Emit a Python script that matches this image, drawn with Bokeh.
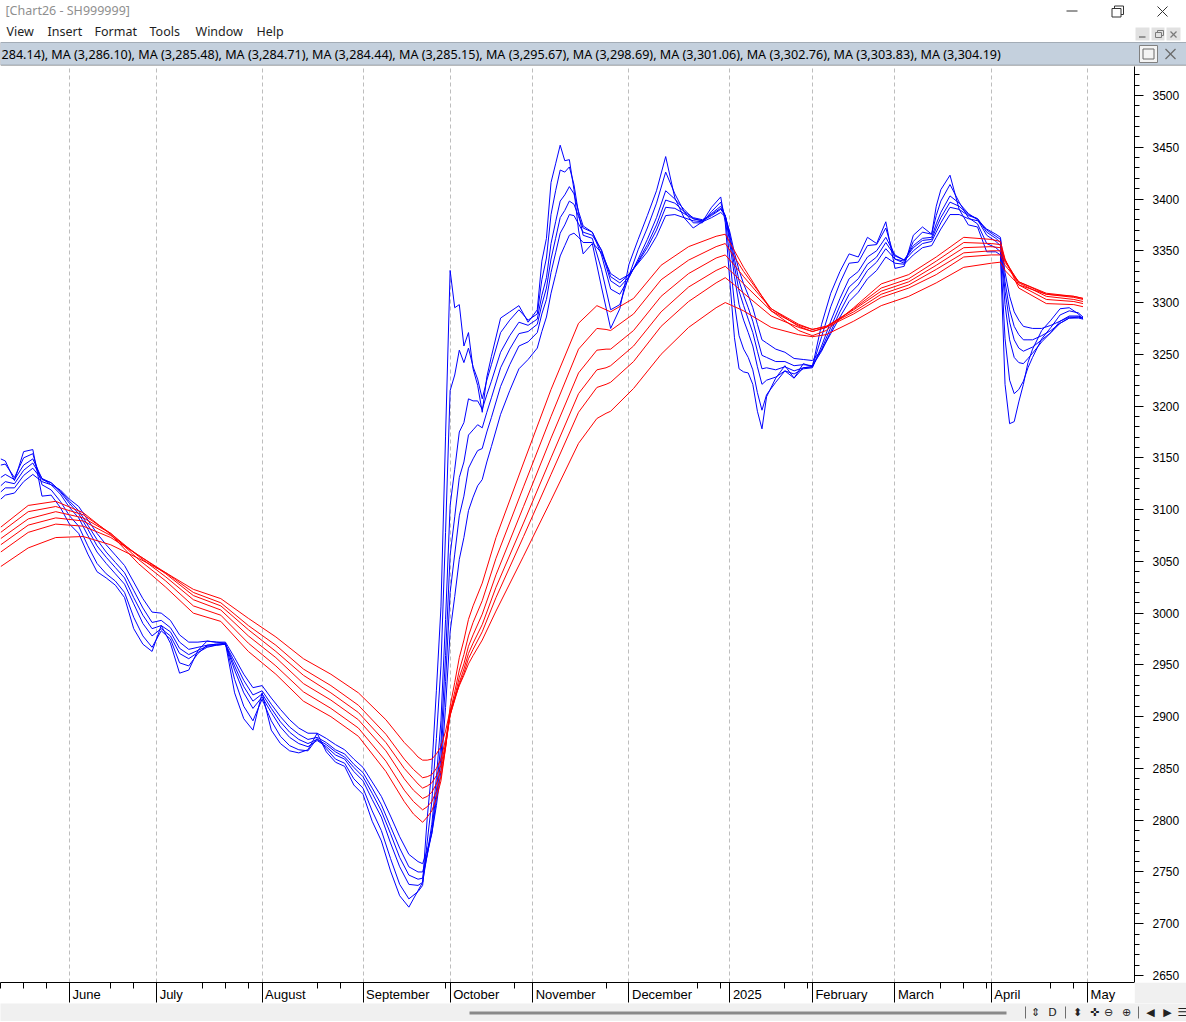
import pandas as pd
from bokeh.plotting import figure
from bokeh.layouts import column
from bokeh.models import Range1d, FixedTicker, SingleIntervalTicker
from bokeh.embed import file_html
from bokeh.resources import INLINE
from bokeh.core.properties import value

# ---------------- data ----------------
HOLIDAYS = ["2024-06-10", "2024-09-16", "2024-09-17", "2024-10-01", "2024-10-02", "2024-10-03",
            "2024-10-04", "2024-10-07", "2025-01-01", "2025-01-28", "2025-01-29", "2025-01-30",
            "2025-01-31", "2025-02-03", "2025-02-04", "2025-04-04", "2025-05-01", "2025-05-02", "2025-05-05"]
MONTH_LABELS = ["June", "July", "August", "September", "October", "November", "December",
                "2025", "February", "March", "April", "May"]
HEADER_VALUES = [3284.14, 3286.10, 3285.48, 3284.71, 3284.44, 3285.15,
                 3295.67, 3298.69, 3301.06, 3302.76, 3303.83, 3304.19]

BLUE_DATES = [
    "2024-05-13", "2024-05-14", "2024-05-16", "2024-05-20", "2024-05-22", "2024-05-24", "2024-05-28", "2024-05-30", "2024-06-03", "2024-06-05",
    "2024-06-07", "2024-06-12", "2024-06-14", "2024-06-18", "2024-06-20", "2024-06-24", "2024-06-26", "2024-06-28", "2024-07-02", "2024-07-04",
    "2024-07-08", "2024-07-10", "2024-07-12", "2024-07-16", "2024-07-18", "2024-07-22", "2024-07-24", "2024-07-26", "2024-07-30", "2024-08-01",
    "2024-08-05", "2024-08-07", "2024-08-09", "2024-08-13", "2024-08-15", "2024-08-19", "2024-08-21", "2024-08-23", "2024-08-27", "2024-08-29",
    "2024-09-02", "2024-09-04", "2024-09-06", "2024-09-10", "2024-09-12", "2024-09-18", "2024-09-20", "2024-09-23", "2024-09-24", "2024-09-25",
    "2024-09-26", "2024-09-27", "2024-09-30", "2024-10-08", "2024-10-09", "2024-10-10", "2024-10-11", "2024-10-14", "2024-10-15", "2024-10-16",
    "2024-10-17", "2024-10-18", "2024-10-21", "2024-10-23", "2024-10-25", "2024-10-29", "2024-10-31", "2024-11-04", "2024-11-05", "2024-11-06",
    "2024-11-07", "2024-11-08", "2024-11-11", "2024-11-12", "2024-11-13", "2024-11-14", "2024-11-15", "2024-11-18", "2024-11-20", "2024-11-22",
    "2024-11-26", "2024-11-28", "2024-12-02", "2024-12-04", "2024-12-06", "2024-12-10", "2024-12-12", "2024-12-16", "2024-12-18", "2024-12-20",
    "2024-12-24", "2024-12-26", "2024-12-30", "2024-12-31", "2025-01-02", "2025-01-03", "2025-01-06", "2025-01-07", "2025-01-08", "2025-01-09",
    "2025-01-10", "2025-01-13", "2025-01-14", "2025-01-16", "2025-01-20", "2025-01-22", "2025-01-24", "2025-02-05", "2025-02-07", "2025-02-11",
    "2025-02-13", "2025-02-17", "2025-02-19", "2025-02-21", "2025-02-25", "2025-02-27", "2025-03-03", "2025-03-05", "2025-03-07", "2025-03-11",
    "2025-03-13", "2025-03-14", "2025-03-17", "2025-03-19", "2025-03-21", "2025-03-25", "2025-03-27", "2025-03-31", "2025-04-02", "2025-04-03",
    "2025-04-07", "2025-04-08", "2025-04-09", "2025-04-10", "2025-04-11", "2025-04-14", "2025-04-15", "2025-04-17", "2025-04-21", "2025-04-23",
    "2025-04-25", "2025-04-29", "2025-04-30"]

MA3 = [3149, 3147, 3128, 3156, 3158, 3113, 3114, 3102, 3086, 3077,
       3057, 3040, 3034, 3027, 3015, 2985, 2970, 2963, 2988, 2971,
       2942, 2945, 2964, 2973, 2972, 2971, 2923, 2898, 2887, 2923,
       2887, 2874, 2867, 2865, 2868, 2884, 2866, 2856, 2852, 2834,
       2825, 2799, 2780, 2751, 2727, 2716, 2732, 2740, 2802, 2849,
       2925, 3006, 3171, 3331, 3295, 3298, 3258, 3271, 3236, 3220,
       3194, 3228, 3248, 3285, 3291, 3297, 3281, 3293, 3340, 3362,
       3416, 3434, 3452, 3437, 3438, 3409, 3370, 3347, 3357, 3315,
       3275, 3294, 3337, 3361, 3384, 3408, 3441, 3401, 3382, 3372,
       3378, 3392, 3402, 3377, 3320, 3266, 3236, 3233, 3232, 3221,
       3195, 3178, 3209, 3227, 3239, 3227, 3241, 3238, 3279, 3309,
       3330, 3347, 3344, 3363, 3357, 3378, 3333, 3335, 3365, 3373,
       3366, 3393, 3409, 3423, 3390, 3375, 3373, 3349, 3349, 3346,
       3221, 3183, 3185, 3204, 3221, 3242, 3255, 3273, 3283, 3294,
       3295, 3289, 3284]
MA5 = [3143, 3144, 3131, 3150, 3154, 3124, 3119, 3108, 3094, 3084,
       3065, 3048, 3038, 3031, 3020, 2996, 2978, 2967, 2983, 2975,
       2952, 2949, 2961, 2969, 2970, 2971, 2936, 2910, 2896, 2917,
       2896, 2881, 2872, 2868, 2867, 2879, 2869, 2859, 2855, 2840,
       2831, 2809, 2790, 2763, 2738, 2724, 2731, 2737, 2779, 2818,
       2879, 2949, 3078, 3215, 3230, 3254, 3242, 3256, 3238, 3226,
       3207, 3225, 3240, 3271, 3283, 3293, 3283, 3289, 3322, 3343,
       3385, 3408, 3428, 3426, 3431, 3414, 3386, 3365, 3362, 3332,
       3293, 3298, 3326, 3351, 3372, 3396, 3426, 3405, 3388, 3377,
       3377, 3388, 3397, 3382, 3342, 3299, 3268, 3255, 3247, 3235,
       3213, 3196, 3211, 3223, 3234, 3227, 3237, 3238, 3267, 3296,
       3319, 3338, 3339, 3355, 3356, 3372, 3342, 3338, 3359, 3368,
       3366, 3384, 3398, 3414, 3397, 3382, 3376, 3357, 3353, 3349,
       3265, 3225, 3212, 3216, 3224, 3237, 3247, 3265, 3276, 3288,
       3292, 3290, 3286]
MA8 = [3131, 3134, 3129, 3143, 3149, 3130, 3124, 3115, 3102, 3092,
       3075, 3059, 3048, 3038, 3028, 3009, 2990, 2978, 2985, 2978,
       2961, 2956, 2962, 2967, 2969, 2970, 2945, 2923, 2908, 2919,
       2904, 2890, 2880, 2874, 2871, 2877, 2871, 2863, 2859, 2847,
       2838, 2820, 2803, 2778, 2755, 2738, 2737, 2740, 2767, 2796,
       2841, 2896, 2994, 3104, 3139, 3175, 3184, 3207, 3205, 3205,
       3197, 3211, 3224, 3252, 3268, 3281, 3278, 3284, 3307, 3324,
       3357, 3378, 3398, 3404, 3412, 3405, 3388, 3374, 3368, 3346,
       3313, 3308, 3324, 3342, 3361, 3382, 3408, 3400, 3390, 3381,
       3379, 3386, 3393, 3384, 3357, 3325, 3298, 3283, 3271, 3258,
       3238, 3221, 3225, 3228, 3234, 3231, 3236, 3237, 3258, 3282,
       3304, 3323, 3330, 3344, 3350, 3363, 3346, 3341, 3355, 3362,
       3363, 3376, 3387, 3403, 3396, 3386, 3380, 3365, 3359, 3355,
       3298, 3264, 3247, 3242, 3241, 3246, 3251, 3262, 3271, 3282,
       3287, 3287, 3285]
MA10 = [3123, 3127, 3125, 3138, 3145, 3130, 3126, 3117, 3106, 3096,
        3081, 3065, 3054, 3044, 3034, 3015, 2998, 2985, 2988, 2982,
        2966, 2960, 2964, 2968, 2969, 2970, 2949, 2929, 2915, 2922,
        2908, 2895, 2885, 2878, 2874, 2878, 2873, 2866, 2861, 2851,
        2842, 2826, 2809, 2787, 2764, 2747, 2743, 2744, 2766, 2790,
        2828, 2875, 2959, 3056, 3093, 3131, 3146, 3172, 3177, 3182,
        3179, 3194, 3208, 3237, 3255, 3270, 3272, 3279, 3298, 3314,
        3342, 3362, 3382, 3389, 3398, 3395, 3383, 3372, 3368, 3350,
        3321, 3315, 3325, 3340, 3356, 3375, 3399, 3396, 3388, 3382,
        3380, 3385, 3391, 3384, 3362, 3335, 3311, 3297, 3284, 3271,
        3253, 3236, 3237, 3235, 3238, 3234, 3237, 3238, 3255, 3276,
        3297, 3315, 3323, 3337, 3344, 3358, 3345, 3341, 3353, 3360,
        3361, 3372, 3382, 3397, 3393, 3385, 3381, 3368, 3362, 3358,
        3311, 3281, 3264, 3256, 3253, 3255, 3257, 3264, 3271, 3280,
        3285, 3286, 3285]
MA12 = [3117, 3121, 3121, 3133, 3140, 3129, 3126, 3118, 3108, 3099,
        3085, 3071, 3059, 3049, 3039, 3022, 3005, 2991, 2993, 2986,
        2972, 2965, 2967, 2969, 2970, 2970, 2953, 2935, 2921, 2925,
        2912, 2900, 2890, 2883, 2878, 2880, 2875, 2868, 2864, 2854,
        2846, 2831, 2815, 2794, 2773, 2755, 2750, 2750, 2767, 2787,
        2820, 2861, 2934, 3020, 3057, 3094, 3113, 3140, 3149, 3157,
        3159, 3175, 3189, 3219, 3240, 3258, 3262, 3271, 3289, 3303,
        3329, 3348, 3367, 3375, 3385, 3384, 3376, 3368, 3365, 3351,
        3325, 3319, 3327, 3339, 3353, 3370, 3392, 3391, 3386, 3381,
        3379, 3384, 3390, 3384, 3365, 3342, 3321, 3307, 3295, 3282,
        3265, 3249, 3247, 3243, 3243, 3239, 3240, 3239, 3253, 3272,
        3291, 3308, 3317, 3331, 3339, 3352, 3342, 3340, 3350, 3357,
        3359, 3368, 3377, 3392, 3390, 3384, 3381, 3370, 3364, 3361,
        3320, 3293, 3277, 3269, 3264, 3264, 3264, 3268, 3273, 3280,
        3285, 3285, 3284]
MA15 = [3110, 3114, 3116, 3127, 3134, 3127, 3124, 3119, 3110, 3103,
        3090, 3077, 3066, 3056, 3046, 3030, 3014, 3001, 3000, 2993,
        2979, 2972, 2972, 2973, 2972, 2972, 2957, 2941, 2928, 2930,
        2918, 2907, 2897, 2889, 2884, 2884, 2879, 2873, 2868, 2859,
        2851, 2837, 2823, 2804, 2784, 2767, 2760, 2758, 2771, 2787,
        2814, 2848, 2909, 2982, 3016, 3052, 3073, 3099, 3112, 3123,
        3129, 3146, 3161, 3192, 3215, 3236, 3245, 3256, 3272, 3286,
        3309, 3327, 3345, 3355, 3365, 3367, 3363, 3358, 3358, 3348,
        3328, 3322, 3327, 3338, 3349, 3364, 3384, 3385, 3382, 3379,
        3378, 3382, 3387, 3383, 3368, 3348, 3331, 3318, 3307, 3295,
        3279, 3264, 3261, 3255, 3252, 3246, 3245, 3244, 3254, 3270,
        3286, 3301, 3310, 3323, 3331, 3344, 3338, 3337, 3346, 3353,
        3355, 3363, 3371, 3385, 3385, 3381, 3379, 3371, 3366, 3363,
        3329, 3306, 3291, 3283, 3277, 3276, 3275, 3275, 3278, 3282,
        3286, 3286, 3285]

RED_DATES = [
    "2024-05-13", "2024-05-21", "2024-05-29", "2024-06-06", "2024-06-17", "2024-06-25", "2024-07-03", "2024-07-11", "2024-07-19", "2024-07-29",
    "2024-08-06", "2024-08-14", "2024-08-22", "2024-08-30", "2024-09-09", "2024-09-13", "2024-09-19", "2024-09-20", "2024-09-23", "2024-09-24",
    "2024-09-25", "2024-09-26", "2024-09-27", "2024-09-30", "2024-10-08", "2024-10-09", "2024-10-10", "2024-10-11", "2024-10-14", "2024-10-15",
    "2024-10-17", "2024-10-22", "2024-10-30", "2024-11-07", "2024-11-15", "2024-11-21", "2024-11-25", "2024-11-26", "2024-12-03", "2024-12-11",
    "2024-12-19", "2024-12-27", "2024-12-31", "2025-01-03", "2025-01-07", "2025-01-15", "2025-01-23", "2025-02-05", "2025-02-10", "2025-02-18",
    "2025-02-26", "2025-03-06", "2025-03-14", "2025-03-24", "2025-04-01", "2025-04-03", "2025-04-07", "2025-04-10", "2025-04-18", "2025-04-28",
    "2025-04-30"]
MA30 = [3083, 3104, 3108, 3097, 3076, 3048, 3025, 3000, 2992, 2963,
        2941, 2915, 2900, 2881, 2847, 2818, 2806, 2802, 2798, 2803,
        2809, 2821, 2838, 2870, 2910, 2933, 2957, 2974, 2994, 3007,
        3029, 3073, 3145, 3216, 3280, 3297, 3293, 3291, 3304, 3336,
        3354, 3364, 3366, 3350, 3334, 3292, 3273, 3268, 3273, 3295,
        3318, 3327, 3344, 3363, 3361, 3359, 3342, 3314, 3299, 3298,
        3296]
MA35 = [3078, 3098, 3103, 3095, 3077, 3052, 3031, 3007, 2998, 2971,
        2949, 2924, 2908, 2889, 2857, 2829, 2818, 2814, 2810, 2813,
        2818, 2828, 2842, 2870, 2904, 2924, 2945, 2960, 2978, 2991,
        3012, 3053, 3122, 3190, 3255, 3275, 3274, 3273, 3289, 3322,
        3341, 3354, 3357, 3344, 3330, 3294, 3277, 3272, 3276, 3294,
        3314, 3323, 3340, 3358, 3357, 3356, 3341, 3317, 3303, 3301,
        3299]
MA40 = [3072, 3091, 3098, 3092, 3077, 3055, 3035, 3013, 3003, 2978,
        2957, 2932, 2916, 2897, 2867, 2840, 2829, 2825, 2821, 2823,
        2827, 2835, 2848, 2871, 2902, 2919, 2938, 2951, 2968, 2979,
        2999, 3037, 3103, 3169, 3232, 3254, 3255, 3255, 3273, 3306,
        3328, 3343, 3346, 3336, 3325, 3294, 3279, 3274, 3277, 3293,
        3311, 3320, 3336, 3353, 3354, 3353, 3341, 3319, 3306, 3303,
        3301]
MA45 = [3066, 3085, 3092, 3089, 3075, 3056, 3038, 3017, 3007, 2984,
        2963, 2940, 2923, 2904, 2875, 2850, 2840, 2835, 2831, 2833,
        2836, 2843, 2853, 2874, 2901, 2917, 2933, 2946, 2961, 2971,
        2989, 3025, 3087, 3150, 3212, 3235, 3237, 3239, 3258, 3291,
        3315, 3331, 3335, 3327, 3318, 3292, 3278, 3274, 3277, 3291,
        3308, 3317, 3332, 3348, 3350, 3350, 3339, 3320, 3308, 3305,
        3303]
MA50 = [3059, 3078, 3086, 3084, 3073, 3056, 3039, 3020, 3010, 2988,
        2969, 2946, 2930, 2911, 2883, 2859, 2849, 2845, 2841, 2842,
        2844, 2850, 2859, 2878, 2902, 2916, 2931, 2942, 2956, 2965,
        2982, 3015, 3074, 3134, 3194, 3218, 3221, 3223, 3243, 3277,
        3301, 3319, 3324, 3317, 3309, 3287, 3276, 3272, 3276, 3289,
        3305, 3314, 3327, 3344, 3346, 3346, 3336, 3320, 3309, 3306,
        3304]
MA60 = [3045, 3063, 3073, 3074, 3066, 3053, 3039, 3023, 3014, 2995,
        2977, 2956, 2941, 2923, 2897, 2875, 2866, 2861, 2858, 2858,
        2859, 2864, 2871, 2886, 2906, 2918, 2930, 2940, 2951, 2959,
        2974, 3002, 3055, 3109, 3164, 3188, 3193, 3195, 3217, 3250,
        3276, 3295, 3300, 3296, 3292, 3276, 3269, 3267, 3269, 3282,
        3297, 3306, 3319, 3334, 3338, 3339, 3331, 3317, 3308, 3306,
        3304]

# ---------------- trading-day calendar (x axis = trading days) ----------------
cal = pd.bdate_range("2024-05-13", "2025-05-06")
cal = cal[~cal.isin(pd.to_datetime(HOLIDAYS))]
pos = {d.strftime("%Y-%m-%d"): i for i, d in enumerate(cal)}
ORIGIN = pos["2024-06-03"]


def tday(dates):
    return [pos[d] - ORIGIN for d in dates]


bx = tday(BLUE_DATES)
rx = tday(RED_DATES)
month_idx = [i - ORIGIN for i in range(1, len(cal)) if cal[i].month != cal[i - 1].month]
X0, X1 = -15.046, 232.23
PX = 1134.0 / (X1 - X0)
week_idx = []
for i in range(0, len(cal)):
    if i == 0 or cal[i].isocalendar()[1] != cal[i - 1].isocalendar()[1]:
        t = i - ORIGIN
        hidden = False
        for m, lab in zip(month_idx, MONTH_LABELS):
            if m <= t <= m + (len(lab) * 7.2 + 5) / PX:
                hidden = True
        if not hidden:
            week_idx.append(t)

W = 1186
UI = "Noto Sans"

# ---------------- window chrome (top) ----------------
top = figure(width=W, height=66, x_range=Range1d(0, W), y_range=Range1d(66, 0),
             x_axis_type=None, y_axis_type=None, output_backend="svg", toolbar_location=None,
             min_border_left=0, min_border_right=0, min_border_top=0, min_border_bottom=0)
top.frame_align = False
top.outline_line_color = None
top.grid.visible = False
top.text(x=[5], y=[10], text=["[Chart26 - SH999999]"], text_font=value(UI), text_font_size="12.5px",
         text_color="#8f8f8f", text_baseline="middle")
top.text(x=[6, 47, 94, 149, 195, 256], y=[31] * 6,
         text=["View", "Insert", "Format", "Tools", "Window", "Help"], text_font=value(UI),
         text_font_size="12.5px", text_color="#1e1e1e", text_baseline="middle")
top.segment(x0=[1066], y0=[10.5], x1=[1077], y1=[10.5], line_color="#333333", line_width=1)
top.quad(left=[1114], right=[1123], top=[5.5], bottom=[14], fill_color=None, line_color="#333333", line_width=1)
top.quad(left=[1111.5], right=[1120.5], top=[8], bottom=[16.5], fill_color="white",
         line_color="#333333", line_width=1)
top.segment(x0=[1157, 1157], y0=[6, 16], x1=[1167, 1167], y1=[16, 6], line_color="#333333", line_width=1)
top.quad(left=[1135, 1151, 1166], right=[1149, 1164, 1180], top=[27, 27, 27], bottom=[40, 40, 40],
         fill_color="#e1e1e1", line_color=None)
top.segment(x0=[1138.5], y0=[36.5], x1=[1145], y1=[36.5], line_color="#7a7a7a", line_width=1.5)
top.quad(left=[1157], right=[1163], top=[30], bottom=[35], fill_color=None, line_color="#7a7a7a", line_width=1)
top.quad(left=[1155], right=[1161], top=[32], bottom=[37], fill_color="#e1e1e1", line_color="#7a7a7a", line_width=1)
top.segment(x0=[1170, 1170], y0=[31, 37], x1=[1176, 1176], y1=[37, 31], line_color="#7a7a7a", line_width=1.2)
top.quad(left=[0], right=[W], top=[42], bottom=[64.5], fill_color="#c4d0dd", line_color="#a3acb6")
hdr_full = ", ".join("MA ({:,.2f})".format(v) for v in HEADER_VALUES)
hdr = hdr_full[len("MA (3,"):]          # the bar is scrolled: its first characters are out of view
top.text(x=[1], y=[53.5], text=[hdr], text_font=value(UI), text_font_size="12.6px",
         text_color="#000000", text_baseline="middle")
top.quad(left=[1139, 1160], right=[1157, 1180], top=[45], bottom=[62], fill_color="#f4f4f4",
         line_color="#808080")
top.quad(left=[1142.5], right=[1153.5], top=[48.5], bottom=[58.5], fill_color=None, line_color="#6a6a6a")
top.segment(x0=[1165, 1165], y0=[48.5, 58.5], x1=[1175, 1175], y1=[58.5, 48.5], line_color="#6a6a6a", line_width=1.2)
top.segment(x0=[0], y0=[65.5], x1=[W], y1=[65.5], line_color="#9c9c9c", line_width=1)

# ---------------- main chart ----------------
xr = Range1d(X0, X1)
p = figure(frame_width=1134, frame_height=916, x_range=xr, y_range=Range1d(2643.23, 3528.0),
           x_axis_location=None, y_axis_location="right", output_backend="svg", toolbar_location=None,
           min_border_left=0, min_border_right=52, min_border_top=0, min_border_bottom=0)
p.outline_line_color = None
p.ygrid.visible = False
p.xgrid.ticker = FixedTicker(ticks=month_idx)
p.xgrid.grid_line_color = "#bdbdbd"
p.xgrid.grid_line_dash = "4 3"
p.yaxis.ticker = SingleIntervalTicker(interval=50, num_minor_ticks=5)
p.yaxis.major_tick_out = 9
p.yaxis.major_tick_in = 0
p.yaxis.minor_tick_out = 5
p.yaxis.minor_tick_in = 0
p.yaxis.major_label_standoff = 9
p.yaxis.major_label_text_font = "Liberation Sans"
p.yaxis.major_label_text_font_size = "12px"
p.yaxis.major_label_text_color = "#000000"
p.yaxis.axis_line_color = "black"
p.yaxis.major_tick_line_color = "black"
p.yaxis.minor_tick_line_color = "black"

for ys in [MA3, MA5, MA8, MA10, MA12, MA15]:
    p.line(bx, ys, line_color="#0000ff", line_width=1)
for ys in [MA30, MA35, MA40, MA45, MA50, MA60]:
    p.line(rx, ys, line_color="#ff0000", line_width=1)

# ---------------- time axis band ----------------
ax = figure(frame_width=1134, frame_height=21, x_range=xr, y_range=Range1d(1003, 982),
            x_axis_location="above", y_axis_location=None, output_backend="svg", toolbar_location=None,
            min_border_left=0, min_border_right=52, min_border_top=0, min_border_bottom=0)
ax.outline_line_color = None
ax.grid.visible = False
ax.background_fill_color = "white"
ax.border_fill_color = "#f0f0f0"
ax.xaxis.ticker = FixedTicker(ticks=month_idx, minor_ticks=week_idx)
ax.xaxis.major_label_overrides = {int(t): "" for t in month_idx}
ax.xaxis.major_label_text_font_size = "0px"
ax.xaxis.major_label_standoff = 0
ax.xaxis.major_tick_in = 20
ax.xaxis.major_tick_out = 0
ax.xaxis.minor_tick_in = 6
ax.xaxis.minor_tick_out = 0
ax.xaxis.axis_line_color = "black"
ax.xaxis.major_tick_line_color = "black"
ax.xaxis.minor_tick_line_color = "black"
ax.text(x=month_idx, y=[994] * len(month_idx), text=MONTH_LABELS, x_offset=3,
        text_align="left", text_baseline="middle", text_font=value("Liberation Sans"),
        text_font_size="13px", text_color="#000000")

# ---------------- status strip ----------------
st = figure(width=W, height=18, x_range=Range1d(0, W), y_range=Range1d(1021, 1003),
            x_axis_type=None, y_axis_type=None, output_backend="svg", toolbar_location=None,
            min_border_left=0, min_border_right=0, min_border_top=0, min_border_bottom=0)
st.frame_align = False
st.outline_line_color = None
st.grid.visible = False
st.background_fill_color = "#f0f0f0"
st.border_fill_color = "#f0f0f0"
st.segment(x0=[469], y0=[1012.5], x1=[1006], y1=[1012.5], line_color="#8a8a8a", line_width=3)
st.segment(x0=[1025, 1065, 1138], y0=[1006, 1006, 1006], x1=[1025, 1065, 1138], y1=[1018, 1018, 1018],
           line_color="#6e6e6e", line_width=1)
st.text(x=[1035, 1052, 1077, 1094, 1108, 1126, 1150, 1167, 1182], y=[1012] * 9,
        text=["\u21d5", "D", "\u2b0d", "\u271c", "\u2296", "\u2295", "\u25c0", "\u25b6", "\u2630"],
        text_font=value("DejaVu Sans"), text_font_size="11px", text_color="#222222",
        text_align="center", text_baseline="middle")

layout = column(top, p, ax, st, spacing=0)
open("out.html", "w").write(file_html(layout, INLINE))
